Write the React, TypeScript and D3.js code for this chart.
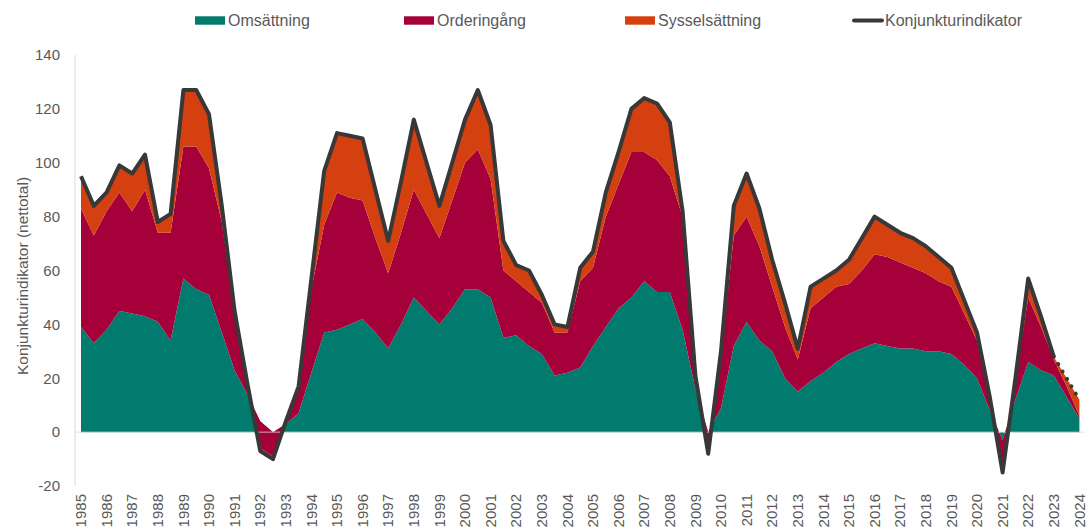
import React from "react";
import * as d3 from "d3";

const yearLabels = [
  "1985", "1986", "1987", "1988", "1989", "1990", "1991", "1992", "1993", "1994",
  "1995", "1996", "1997", "1998", "1999", "2000", "2001", "2002", "2003", "2004",
  "2005", "2006", "2007", "2008", "2009", "2010", "2011", "2012", "2013", "2014",
  "2015", "2016", "2017", "2018", "2019", "2020", "2021", "2022", "2023", "2024",
];

// half-year periods: each year label and its second half
const periods: string[] = yearLabels.flatMap((y, k) =>
  k < yearLabels.length - 1 ? [y, y + "H2"] : [y]
);

const omsattning = [
  39, 33, 38, 45, 44, 43, 41, 34, 57, 53,
  51, 37, 23, 14, 4, 0, 3, 7, 22, 37,
  38, 40, 42, 37, 31, 40, 50, 45, 40, 46,
  53, 53, 50, 35, 36, 32, 29, 21, 22, 24,
  32, 39, 46, 50, 56, 52, 52, 38, 16, 0,
  9, 32, 41, 34, 30, 20, 15, 19, 22, 26,
  29, 31, 33, 32, 31, 31, 30, 30, 29, 25,
  20, 8, -3, 12, 26, 23, 21, 13, 5,
];

const orderingang = [
  44, 40, 44, 44, 38, 47, 33, 40, 49, 53,
  47, 41, 21, 3, -10, -9, 1, 9, 31, 40,
  51, 47, 44, 35, 28, 34, 40, 36, 32, 40,
  47, 52, 44, 25, 20, 20, 19, 16, 15, 32,
  29, 41, 46, 54, 48, 49, 43, 42, 4, -7,
  19, 41, 39, 35, 24, 19, 12, 27, 28, 28,
  26, 29, 33, 33, 32, 30, 29, 26, 25, 19,
  14, 5, -11, 7, 24, 16, 6, 4, 1,
];

const sysselsattning = [
  12, 11, 7, 10, 14, 13, 4, 7, 21, 21,
  20, 6, 1, 1, -1, -1, 0, 1, 4, 20,
  22, 23, 23, 18, 12, 19, 26, 19, 12, 14,
  16, 22, 20, 11, 6, 8, 3, 3, 2, 5,
  6, 9, 12, 16, 20, 21, 20, 2, 1, -1,
  2, 11, 16, 14, 10, 9, 4, 8, 7, 6,
  9, 12, 14, 12, 11, 11, 10, 9, 7, 5,
  3, 0, -1, 1, 7, 4, 1, 3, 6,
];

const konjunktur = [
  95, 84, 89, 99, 96, 103, 78, 81, 127, 127,
  118, 84, 45, 18, -7, -10, 4, 17, 57, 97,
  111, 110, 109, 90, 71, 93, 116, 100, 84, 100,
  116, 127, 114, 71, 62, 60, 51, 40, 39, 61,
  67, 89, 104, 120, 124, 122, 115, 82, 21, -8,
  30, 84, 96, 83, 64, 48, 31, 54, 57, 60,
  64, 72, 80, 77, 74, 72, 69, 65, 61, 49,
  37, 13, -15, 20, 57, 43, 28, 20, 12,
];

// index from which the indicator is drawn dotted (forecast)
const forecastFrom = 76;

const yTicks = [-20, 0, 20, 40, 60, 80, 100, 120, 140];

const seriesNames = ["Omsättning", "Orderingång", "Sysselsättning"];
const seriesColors = ["#007B6E", "#A6003A", "#D4400F"];
const lineName = "Konjunkturindikator";
const lineColor = "#383838";
const yTitle = "Konjunkturindikator (nettotal)";

const W = 1090;
const H = 530;
const textColor = "#595959";
const font = "'Liberation Sans', Arial, sans-serif";

type Row = { period: string; a: number; b: number; c: number; k: number };

export default function App() {
  const x = d3.scalePoint<string>().domain(periods).range([81, 1079.4]);
  const y = d3.scaleLinear().domain([-20, 140]).range([486, 55]);

  const table: Row[] = periods.map((p, i) => ({
    period: p,
    a: omsattning[i],
    b: orderingang[i],
    c: sysselsattning[i],
    k: konjunktur[i],
  }));

  const stacked = d3
    .stack<Row>()
    .keys(["a", "b", "c"])
    .offset(d3.stackOffsetNone)(table);

  const area = d3
    .area<d3.SeriesPoint<Row>>()
    .x((d) => x(d.data.period) as number)
    .y0((d) => y(d[0]))
    .y1((d) => y(d[1]));

  const line = d3
    .line<Row>()
    .x((d) => x(d.period) as number)
    .y((d) => y(d.k));

  const solidPart = table.slice(0, forecastFrom + 1);
  const dottedPart = table.slice(forecastFrom);

  const legend = [
    { name: seriesNames[0], color: seriesColors[0], x: 195, kind: "rect" },
    { name: seriesNames[1], color: seriesColors[1], x: 404, kind: "rect" },
    { name: seriesNames[2], color: seriesColors[2], x: 625, kind: "rect" },
    { name: lineName, color: lineColor, x: 852, kind: "line" },
  ];

  return (
    <svg
      width={W}
      height={H}
      style={{ position: "absolute", left: 0, top: 0, background: "#fff" }}
      fontFamily={font}
    >
      {/* legend */}
      {legend.map((l) => (
        <g key={l.name}>
          {l.kind === "rect" ? (
            <rect x={l.x} y={16.3} width={30} height={8.4} fill={l.color} />
          ) : (
            <line
              x1={l.x + 2}
              x2={l.x + 30}
              y1={20.5}
              y2={20.5}
              stroke={l.color}
              strokeWidth={4}
              strokeLinecap="round"
            />
          )}
          <text x={l.x + 33} y={26} fontSize={16} fill={textColor}>
            {l.name}
          </text>
        </g>
      ))}

      {/* y axis line */}
      <line x1={75} x2={75} y1={55} y2={486} stroke="#d9d9d9" strokeWidth={1} />

      {/* y tick labels */}
      {yTicks.map((t) => (
        <text
          key={t}
          x={60}
          y={y(t)}
          dy="0.35em"
          textAnchor="end"
          fontSize={15}
          fill={textColor}
        >
          {t}
        </text>
      ))}

      {/* y title */}
      <text
        transform={`translate(28,${276}) rotate(-90)`}
        textAnchor="middle"
        fontSize={15.5}
        fill={textColor}
      >
        {yTitle}
      </text>

      {/* stacked areas */}
      {stacked.map((s, i) => (
        <path key={s.key} d={area(s) || ""} fill={seriesColors[i]} />
      ))}

      {/* zero line */}
      <line
        x1={75}
        x2={1085}
        y1={y(0)}
        y2={y(0)}
        stroke="#d9d9d9"
        strokeOpacity={0.8}
        strokeWidth={1}
      />

      {/* indicator line */}
      <path
        d={line(solidPart) || ""}
        fill="none"
        stroke={lineColor}
        strokeWidth={4}
        strokeLinejoin="round"
      />
      <path
        d={line(dottedPart) || ""}
        fill="none"
        stroke={lineColor}
        strokeWidth={4}
        strokeLinecap="round"
        strokeDasharray="0.1 8.5"
      />

      {/* x tick labels */}
      {yearLabels.map((lbl) => (
        <text
          key={lbl}
          transform={`translate(${x(lbl)},494) rotate(-90)`}
          dy="0.35em"
          textAnchor="end"
          fontSize={15}
          fill={textColor}
        >
          {lbl}
        </text>
      ))}
    </svg>
  );
}
